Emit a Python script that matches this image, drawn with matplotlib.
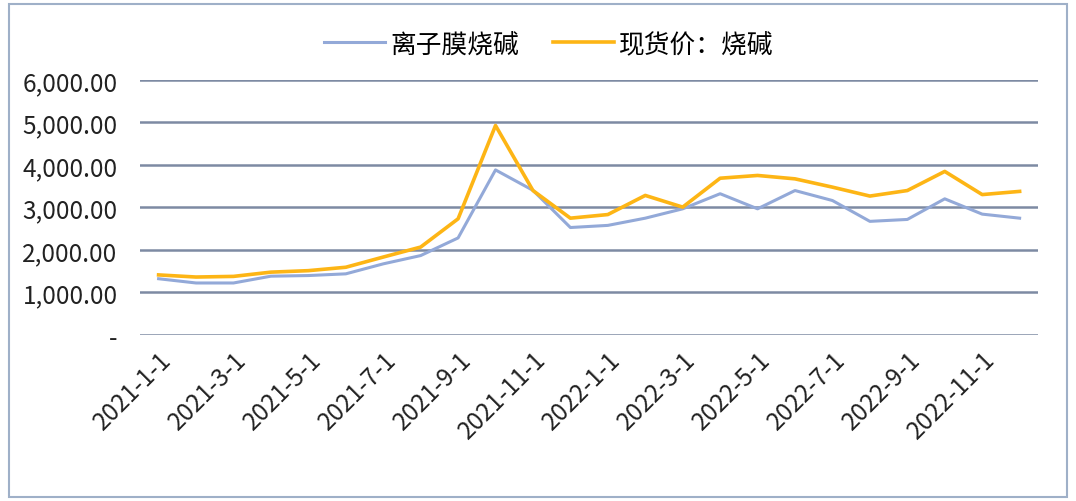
import numpy as np
import matplotlib.pyplot as plt
from matplotlib.ticker import FuncFormatter
from matplotlib.patches import Rectangle

plt.rcParams['font.family'] = ['Noto Sans CJK SC', 'DejaVu Sans']

months = ['2021-1-1', '2021-2-1', '2021-3-1', '2021-4-1', '2021-5-1', '2021-6-1',
          '2021-7-1', '2021-8-1', '2021-9-1', '2021-10-1', '2021-11-1', '2021-12-1',
          '2022-1-1', '2022-2-1', '2022-3-1', '2022-4-1', '2022-5-1', '2022-6-1',
          '2022-7-1', '2022-8-1', '2022-9-1', '2022-10-1', '2022-11-1', '2022-12-1']
ion_membrane = [1320, 1220, 1220, 1380, 1395, 1435, 1670, 1865, 2280, 3880, 3400, 2525,
                2575, 2745, 2965, 3320, 2965, 3395, 3160, 2670, 2715, 3200, 2840, 2745]
spot_price = [1410, 1360, 1375, 1475, 1510, 1590, 1830, 2065, 2730, 4925, 3395, 2745,
              2830, 3280, 3005, 3685, 3750, 3670, 3475, 3265, 3395, 3845, 3300, 3375]

fig = plt.figure(figsize=(10.76, 5.02), dpi=100)
ax = fig.add_axes([0.130, 0.331, 0.835, 0.508])

x = np.arange(len(months))
ax.plot(x, ion_membrane, color='#93a9d8', lw=2.2, label='离子膜烧碱')
ax.plot(x, spot_price, color='#fdb515', lw=2.6, label='现货价：烧碱')

ax.set_xlim(-0.5, len(months) - 0.5)
ax.set_ylim(0, 6000)
ax.set_yticks(np.arange(0, 6001, 1000))
ax.yaxis.set_major_formatter(FuncFormatter(lambda v, p: '-' if v == 0 else f'{v:,.2f}'))
ax.grid(axis='y', color='#7d8aa3', lw=1.8)
ax.set_axisbelow(True)
for s in ax.spines.values():
    s.set_visible(False)
ax.tick_params(axis='y', length=0, labelsize=17.5, colors='#222222', pad=16)

ax.set_xticks(x[::2])
ax.set_xticklabels(months[::2], rotation=45, ha='right', rotation_mode='anchor', fontsize=17.5)
ax.tick_params(axis='x', length=0, colors='#222222', pad=8)

leg = fig.legend(loc='center', bbox_to_anchor=(0.51, 0.91), ncol=2, frameon=False,
                 fontsize=18.5, handlelength=2.4, columnspacing=1.3, handletextpad=0.2)

fig.patches.append(Rectangle((0.008, 0.008), 0.984, 0.982, transform=fig.transFigure,
                             fill=False, edgecolor='#9fb0c8', lw=1.5))

fig.savefig('out.png', dpi=100)
